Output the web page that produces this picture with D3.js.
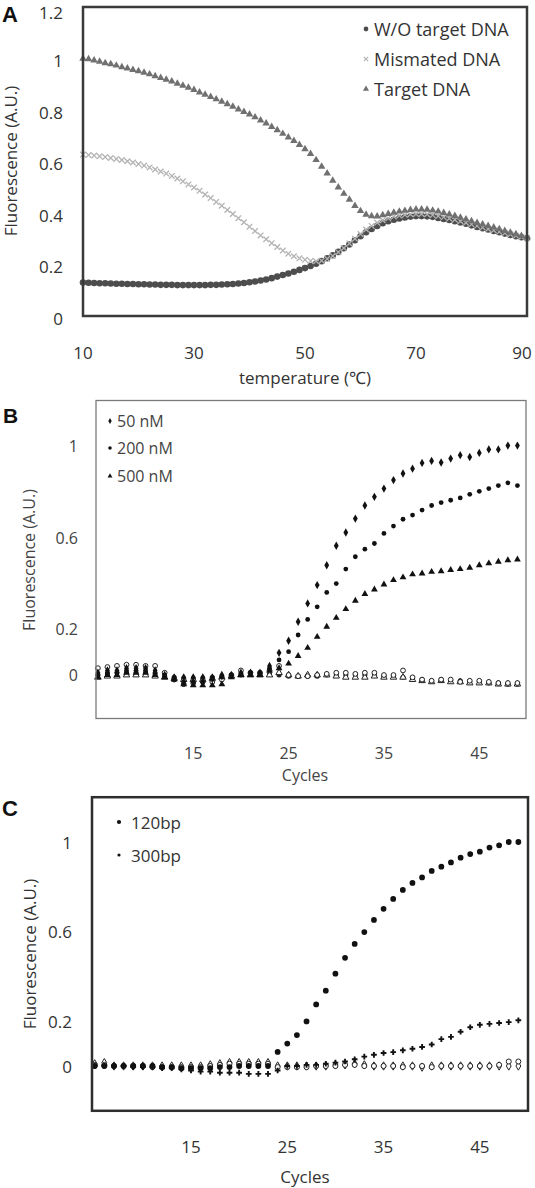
<!DOCTYPE html>
<html><head><meta charset="utf-8">
<script src="https://cdn.jsdelivr.net/npm/d3@7"></script>
<style>
body{margin:0;background:#fff}
svg{display:block}
text{font-family:"Open Sans",sans-serif}
</style>
</head><body>
<svg id="chart" width="535" height="1188"></svg>
<script>
// ---------- Panel A data ----------
const temperatures = [10,11,12,13,14,15,16,17,18,19,20,21,22,23,24,25,26,27,28,29,30,31,32,33,34,35,36,37,38,39,40,41,42,43,44,45,46,47,48,49,50,51,52,53,54,55,56,57,58,59,60,61,62,63,64,65,66,67,68,69,70,71,72,73,74,75,76,77,78,79,80,81,82,83,84,85,86,87,88,89,90];
const woTarget = [0.130,0.129,0.128,0.127,0.127,0.126,0.125,0.125,0.124,0.124,0.123,0.123,0.122,0.122,0.121,0.121,0.121,0.120,0.120,0.120,0.120,0.120,0.120,0.121,0.121,0.122,0.123,0.124,0.126,0.128,0.131,0.134,0.138,0.142,0.147,0.153,0.159,0.165,0.172,0.179,0.186,0.194,0.203,0.213,0.224,0.236,0.249,0.263,0.278,0.294,0.310,0.325,0.338,0.350,0.360,0.368,0.374,0.379,0.383,0.386,0.388,0.388,0.387,0.385,0.381,0.377,0.373,0.368,0.363,0.358,0.352,0.346,0.341,0.336,0.330,0.325,0.320,0.315,0.310,0.306,0.302];
const mismated = [0.627,0.625,0.623,0.620,0.617,0.614,0.610,0.606,0.601,0.596,0.590,0.584,0.577,0.569,0.561,0.553,0.544,0.534,0.523,0.511,0.499,0.486,0.472,0.458,0.443,0.428,0.412,0.396,0.380,0.364,0.347,0.330,0.313,0.298,0.283,0.268,0.254,0.242,0.232,0.224,0.218,0.214,0.213,0.215,0.222,0.233,0.248,0.264,0.282,0.300,0.318,0.336,0.350,0.362,0.372,0.380,0.386,0.390,0.393,0.395,0.396,0.396,0.395,0.392,0.388,0.384,0.379,0.374,0.368,0.362,0.356,0.350,0.344,0.338,0.333,0.327,0.322,0.317,0.312,0.307,0.302];
const targetDNA = [1.000,0.998,0.993,0.988,0.982,0.978,0.973,0.967,0.962,0.956,0.951,0.945,0.939,0.932,0.925,0.918,0.911,0.903,0.895,0.887,0.878,0.869,0.860,0.851,0.842,0.833,0.823,0.813,0.803,0.793,0.783,0.772,0.760,0.748,0.735,0.722,0.708,0.694,0.680,0.665,0.648,0.630,0.606,0.580,0.554,0.526,0.500,0.475,0.452,0.428,0.408,0.394,0.388,0.387,0.392,0.397,0.402,0.406,0.409,0.412,0.414,0.414,0.413,0.410,0.406,0.401,0.395,0.389,0.382,0.376,0.369,0.362,0.356,0.350,0.344,0.338,0.331,0.324,0.318,0.311,0.305];
const seriesNamesA = ["W/O target DNA","Mismated DNA","Target DNA"];
const xTicksA = [10,30,50,70,90];
const yTicksA = [0,0.2,0.4,0.6,0.8,1,1.2];
const yTickLabelsA = ["0","0.2","0.4","0.6","0.8","1","1.2"];

// ---------- Panel B data ----------
const cycles = [5,6,7,8,9,10,11,12,13,14,15,16,17,18,19,20,21,22,23,24,25,26,27,28,29,30,31,32,33,34,35,36,37,38,39,40,41,42,43,44,45,46,47,48,49];
const b50nM = [0.01,0.02,0.02,0.03,0.03,0.03,0.02,0.00,-0.01,-0.01,-0.01,-0.01,-0.01,0.00,0.00,0.01,0.01,0.01,0.04,0.097,0.150,0.233,0.313,0.393,0.480,0.565,0.623,0.684,0.741,0.779,0.815,0.852,0.881,0.902,0.927,0.936,0.929,0.946,0.961,0.953,0.971,0.986,0.986,1.003,1.003];
const b200nM = [0.00,0.01,0.01,0.02,0.02,0.02,0.01,0.00,-0.02,-0.03,-0.03,-0.03,-0.02,-0.01,0.00,0.00,0.01,0.01,0.03,0.066,0.102,0.175,0.243,0.298,0.361,0.400,0.463,0.517,0.550,0.575,0.619,0.651,0.681,0.699,0.721,0.741,0.754,0.764,0.774,0.790,0.803,0.815,0.828,0.840,0.828];
const b500nM = [-0.01,0.00,0.00,0.01,0.01,0.01,0.00,-0.01,-0.02,-0.04,-0.045,-0.045,-0.045,-0.04,-0.01,0.00,0.00,0.00,0.02,0.03,0.05,0.083,0.119,0.167,0.211,0.250,0.288,0.325,0.354,0.374,0.396,0.415,0.427,0.440,0.444,0.451,0.454,0.459,0.463,0.469,0.480,0.488,0.495,0.502,0.505];
const bCtrlCircle = [0.03,0.035,0.04,0.045,0.045,0.04,0.04,0.01,-0.02,-0.04,-0.035,-0.03,-0.03,-0.02,0.00,0.02,0.01,0.01,0.02,0.04,0.00,-0.005,-0.005,0.00,0.005,0.01,0.01,0.005,0.01,0.01,0.00,0.00,0.02,-0.01,-0.02,-0.025,-0.02,-0.02,-0.03,-0.025,-0.025,-0.03,-0.035,-0.035,-0.035];
const bCtrlTriangle = [-0.01,-0.005,-0.005,0.00,0.00,0.00,-0.005,-0.01,-0.015,-0.02,-0.02,-0.02,-0.015,-0.01,-0.005,0.00,0.00,0.00,0.00,0.01,0.00,-0.005,0.00,0.00,0.00,-0.005,-0.01,-0.01,-0.01,-0.005,-0.01,-0.01,-0.01,-0.02,-0.025,-0.03,-0.025,-0.03,-0.03,-0.035,-0.035,-0.035,-0.04,-0.04,-0.04];
const bCtrlFilled = [0.00,0.005,0.01,0.01,0.01,0.01,0.005,-0.005,-0.01,-0.015,-0.015,-0.015,-0.01,-0.005,0.00,0.005,0.005,0.005,0.005,0.00,-0.005,-0.005,-0.005,-0.005,0.00,0.00,0.00,0.00,0.00,0.00,-0.005,-0.005,-0.01,-0.015,-0.02,-0.025,-0.02,-0.025,-0.025,-0.03,-0.03,-0.035,-0.035,-0.04,-0.04];
const seriesNamesB = ["50 nM","200 nM","500 nM"];
const xTicksBC = [15,25,35,45];
const yTicksBC = [0,0.2,0.6,1];
const yTickLabelsBC = ["0","0.2","0.6","1"];

// ---------- Panel C data ----------
const c120bp = [0.00,0.00,0.00,0.00,0.00,0.00,0.00,-0.005,-0.005,-0.01,-0.01,-0.01,-0.01,-0.005,-0.005,0.00,0.00,0.00,0.00,0.063,0.100,0.138,0.199,0.275,0.336,0.412,0.483,0.545,0.598,0.652,0.702,0.746,0.786,0.817,0.842,0.871,0.890,0.909,0.930,0.946,0.957,0.975,0.985,1.000,1.000];
const c300bp = [0.00,0.00,0.00,0.00,-0.005,-0.005,-0.005,-0.01,-0.01,-0.015,-0.02,-0.025,-0.025,-0.03,-0.03,-0.03,-0.035,-0.035,-0.035,-0.02,0.00,0.00,0.005,0.005,0.01,0.015,0.02,0.030,0.042,0.050,0.058,0.062,0.070,0.077,0.085,0.096,0.120,0.130,0.153,0.173,0.184,0.188,0.192,0.196,0.204];
const cCtrlCircle = [0.005,0.005,0.00,0.00,0.00,0.00,-0.005,-0.005,-0.005,-0.005,-0.005,-0.005,0.00,0.005,0.01,0.01,0.01,0.01,0.01,-0.005,-0.005,-0.005,-0.005,0.00,0.00,0.00,0.005,0.005,0.00,0.00,0.00,0.00,-0.005,0.00,0.00,-0.005,0.00,0.00,0.00,0.00,0.00,0.00,0.005,0.02,0.02];
const cCtrlDiamond = [0.01,0.015,0.00,0.00,0.00,0.00,0.00,0.00,0.00,0.00,0.00,0.00,0.005,0.01,0.015,0.015,0.015,0.015,0.015,0.00,0.00,0.00,0.00,0.00,0.00,0.005,0.005,0.01,0.005,0.00,0.00,0.00,0.00,0.00,-0.005,0.00,0.00,0.00,0.00,0.00,0.00,0.00,0.00,0.00,0.00];
const seriesNamesC = ["120bp","300bp"];

// ---------- drawing ----------
const svg = d3.select("#chart");
const sym = (type, size) => d3.symbol().type(type).size(size)();

function drawFrame(x0, y0, x1, y1, color, width) {
  svg.append("rect").attr("x", x0).attr("y", y0).attr("width", x1 - x0).attr("height", y1 - y0)
    .attr("fill", "none").attr("stroke", color).attr("stroke-width", width);
}
function drawSeries(xs, ys, xScale, yScale, marker) {
  const g = svg.append("g");
  g.selectAll("path").data(xs.map((d, i) => [d, ys[i]])).join("path")
    .attr("transform", d => `translate(${xScale(d[0])},${yScale(d[1])})`)
    .attr("d", marker.d)
    .attr("fill", marker.fill)
    .attr("stroke", marker.stroke || "none")
    .attr("stroke-width", marker.sw || 0);
}
function yTickText(ticks, labels, yScale, xRight, size, color, dy = 0, minY = 0) {
  svg.append("g").selectAll("text").data(ticks).join("text")
    .attr("x", xRight).attr("y", d => Math.max(yScale(d) + dy, minY))
    .attr("text-anchor", "end").attr("dominant-baseline", "central")
    .attr("font-size", size).attr("fill", color)
    .text((d, i) => labels[i]);
}
function xTickText(ticks, xScale, yPos, size, color, maxX = 1e9) {
  svg.append("g").selectAll("text").data(ticks).join("text")
    .attr("x", d => Math.min(xScale(d), maxX)).attr("y", yPos)
    .attr("text-anchor", "middle").attr("dominant-baseline", "central")
    .attr("font-size", size).attr("fill", color)
    .text(d => d);
}
function label(txt, x, y, size, opts = {}) {
  const t = svg.append("text").attr("x", x).attr("y", y).attr("font-size", size)
    .attr("dominant-baseline", "central").attr("fill", opts.fill || "#333").text(txt);
  if (opts.anchor) t.attr("text-anchor", opts.anchor);
  if (opts.rotate) t.attr("transform", `rotate(-90,${x},${y})`);
  if (opts.bold) t.attr("font-weight", "bold").style("font-family", "'Liberation Sans',Arial,sans-serif").attr("fill", "#111");
  return t;
}
function legend(names, markers, xm, xt, ys, size, color) {
  names.forEach((n, i) => {
    svg.append("path").attr("transform", `translate(${xm},${ys[i]})`).attr("d", markers[i].d)
      .attr("fill", markers[i].fill).attr("stroke", markers[i].stroke || "none").attr("stroke-width", markers[i].sw || 0);
    label(n, xt, ys[i], size, { fill: color });
  });
}

// ===== Panel A =====
const xA = d3.scaleLinear().domain([10, 90]).range([83, 527]);
const yA = d3.scaleLinear().domain([0, 1.2]).range([316, 7]);
const mkA = [
  { d: sym(d3.symbolCircle, 34), fill: "#4d4d4d" },
  { d: sym(d3.symbolX, 22), fill: "none", stroke: "#b3b3b3", sw: 1.3 },
  { d: sym(d3.symbolTriangle, 24), fill: "#707070" }
];
drawSeries(temperatures, woTarget, xA, yA, mkA[0]);
drawSeries(temperatures, mismated, xA, yA, mkA[1]);
drawSeries(temperatures, targetDNA, xA, yA, mkA[2]);
drawFrame(83, 7, 527, 316, "#3a3a3a", 2.5);
yTickText(yTicksA, yTickLabelsA, yA, 63, 17, "#333", 2, 12);
xTickText(xTicksA, xA, 352, 17, "#333", 522);
label("temperature (\u2103)", 305, 377, 17, { anchor: "middle" });
label("Fluorescence (A.U.)", 10, 161, 17, { anchor: "middle", rotate: true });
label("A", 2, 14, 22, { bold: true });
legend(seriesNamesA,
  [{ d: sym(d3.symbolCircle, 18), fill: "#4d4d4d" },
   { d: sym(d3.symbolX, 14), fill: "none", stroke: "#b3b3b3", sw: 1.2 },
   { d: sym(d3.symbolTriangle, 16), fill: "#707070" }],
  366, 374, [29, 59, 89], 18, "#333");

// ===== Panel B =====
const xB = d3.scaleLinear().domain([4.8, 49.9]).range([96, 526]);
const yB = d3.scaleLinear().domain([-0.19, 1.2]).range([718.5, 400.5]);
const mkB = [
  { d: sym(d3.symbolDiamond, 20), fill: "#111" },
  { d: sym(d3.symbolCircle, 18), fill: "#111" },
  { d: sym(d3.symbolTriangle, 20), fill: "#111" }
];
drawSeries(cycles, bCtrlFilled, xB, yB, { d: sym(d3.symbolCircle, 20), fill: "#222" });
drawSeries(cycles, bCtrlTriangle, xB, yB, { d: sym(d3.symbolTriangle, 18), fill: "#fff", stroke: "#222", sw: 1 });
drawSeries(cycles, bCtrlCircle, xB, yB, { d: sym(d3.symbolCircle, 18), fill: "#fff", stroke: "#222", sw: 1 });
drawSeries(cycles, b500nM, xB, yB, mkB[2]);
drawSeries(cycles, b200nM, xB, yB, mkB[1]);
drawSeries(cycles, b50nM, xB, yB, mkB[0]);
drawFrame(96, 400.5, 526, 718.5, "#7a7a7a", 1.3);
yTickText(yTicksBC, yTickLabelsBC, yB, 78, 16, "#444");
xTickText(xTicksBC, xB, 753, 16, "#444");
label("Cycles", 305, 775, 16, { anchor: "middle", fill: "#444" });
label("Fluorescence (A.U.)", 29, 560, 16, { anchor: "middle", rotate: true, fill: "#444" });
label("B", 3, 415, 21, { bold: true });
legend(seriesNamesB,
  [{ d: sym(d3.symbolDiamond, 10), fill: "#111" },
   { d: sym(d3.symbolCircle, 10), fill: "#111" },
   { d: sym(d3.symbolTriangle, 10), fill: "#111" }],
  110, 117, [421, 448, 476], 16, "#444");

// ===== Panel C =====
const xC = d3.scaleLinear().domain([4.72, 50]).range([92, 528]);
const yC = d3.scaleLinear().domain([-0.2, 1.2]).range([1110.8, 797.2]);
const mkC = [
  { d: sym(d3.symbolCircle, 26), fill: "#111" },
  { d: sym(d3.symbolCross, 18), fill: "#111" }
];
drawSeries(cycles, cCtrlDiamond, xC, yC, { d: sym(d3.symbolDiamond, 20), fill: "#fff", stroke: "#222", sw: 1 });
drawSeries(cycles, cCtrlCircle, xC, yC, { d: sym(d3.symbolCircle, 20), fill: "#fff", stroke: "#222", sw: 1 });
drawSeries(cycles, c300bp, xC, yC, mkC[1]);
drawSeries(cycles, c120bp, xC, yC, mkC[0]);
drawFrame(92, 797.2, 528, 1110.8, "#2e2e2e", 2.5);
yTickText(yTicksBC, yTickLabelsBC, yC, 72, 17, "#333");
xTickText(xTicksBC, xC, 1146, 17, "#333");
label("Cycles", 305, 1176, 17, { anchor: "middle" });
label("Fluorescence (A.U.)", 29, 954, 17, { anchor: "middle", rotate: true });
label("C", 2, 808, 22, { bold: true });
legend(seriesNamesC,
  [{ d: sym(d3.symbolCircle, 14), fill: "#111" },
   { d: sym(d3.symbolCircle, 8), fill: "#111" }],
  119, 131, [822, 855], 17, "#333");
</script>
</body></html>
